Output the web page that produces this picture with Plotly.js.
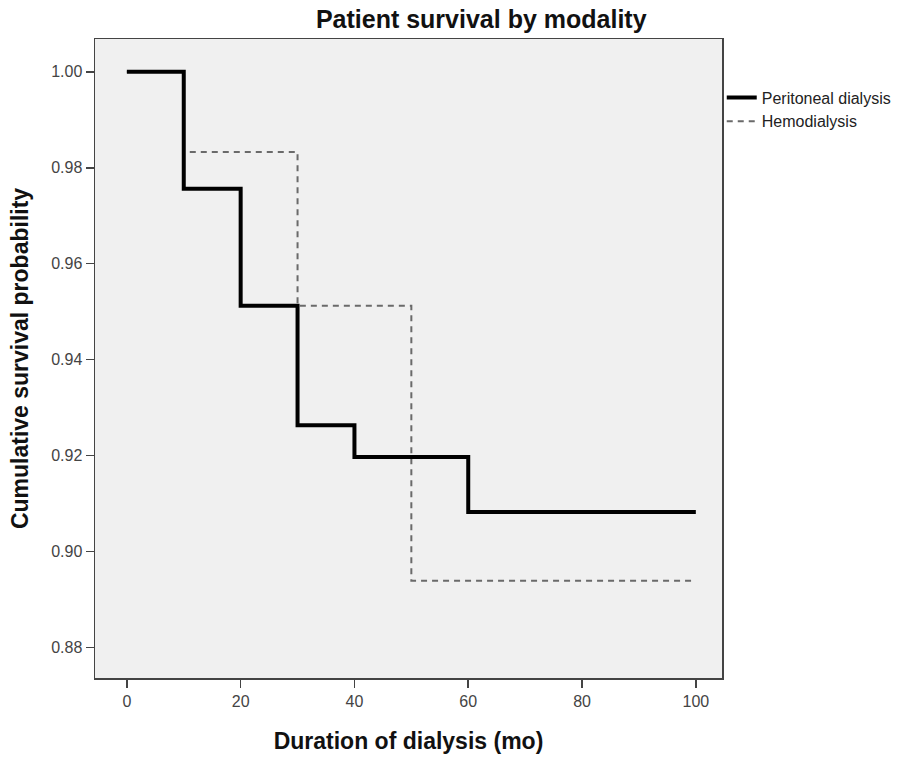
<!DOCTYPE html>
<html>
<head>
<meta charset="utf-8">
<script src="https://cdn.plot.ly/plotly-3.0.1.min.js"></script>
<style>html,body{margin:0;padding:0;background:#fff;}#chart{width:907px;height:758px;}</style>
</head>
<body>
<div id="chart"></div>
<script>
// Step times (months) and cumulative survival
const pdTimes = [0, 10, 20, 30, 40, 60, 100];
const pdSurvival = [1.0, 0.9756, 0.9512, 0.9263, 0.9197, 0.9082, 0.9082];
const hdTimes = [0, 10, 30, 50, 100];
const hdSurvival = [1.0, 0.9833, 0.9512, 0.8939, 0.8939];
const seriesNames = ['Peritoneal dialysis', 'Hemodialysis'];

// Hemodialysis drawn first so the solid line sits on top; legend order fixed by legendrank
const traces = [
  {x: hdTimes, y: hdSurvival, name: seriesNames[1], type: 'scatter', mode: 'lines', legendrank: 2,
   legendgroup: 'hd',
   line: {shape: 'hv', color: '#6a6a6a', width: 2, dash: '6px,5px'}},
  {x: pdTimes, y: pdSurvival, name: seriesNames[0], type: 'scatter', mode: 'lines', legendrank: 1,
   legendgroup: 'pd',
   line: {shape: 'hv', color: '#000000', width: 4}}
];

const font = 'Liberation Sans, Arial, sans-serif';
const layout = {
  width: 907, height: 758,
  margin: {l: 95, r: 184, t: 39, b: 80},
  paper_bgcolor: '#ffffff',
  plot_bgcolor: '#f0f0f0',
  font: {family: font, color: '#444444', size: 15},
  title: {text: '<b>Patient survival by modality</b>', x: 0.616, xanchor: 'center', xref: 'paper',
          y: 0.974, yanchor: 'middle', yref: 'container', font: {family: font, size: 25, color: '#111111'}},
  xaxis: {range: [-5.6, 104.6], tickvals: [0, 20, 40, 60, 80, 100], ticks: 'outside', ticklen: 8,
          tickwidth: 1.5, tickcolor: '#444', showgrid: false, zeroline: false,
          showline: true, linecolor: '#444', linewidth: 1.5, mirror: true,
          tickfont: {size: 16, color: '#444'},
          title: {text: '<b>Duration of dialysis (mo)</b>', font: {size: 23, color: '#111'}, standoff: 24}},
  yaxis: {range: [0.8736, 1.00685], tickvals: [0.88, 0.90, 0.92, 0.94, 0.96, 0.98, 1.00], tickformat: '.2f',
          ticks: 'outside', ticklen: 8, tickwidth: 1.5, tickcolor: '#444', showgrid: false, zeroline: false,
          showline: true, linecolor: '#444', linewidth: 1.5, mirror: true,
          tickfont: {size: 16, color: '#444'},
          title: {text: '<b>Cumulative survival probability</b>', font: {size: 23, color: '#111'}, standoff: 16}},
  showlegend: true,
  legend: {x: 0.998, y: 0.935, xanchor: 'left', yanchor: 'top', bgcolor: 'rgba(0,0,0,0)',
           font: {size: 16, color: '#222'}, itemwidth: 30, tracegroupgap: 2, traceorder: 'normal'}
};

Plotly.newPlot('chart', traces, layout, {displayModeBar: false, staticPlot: true});
</script>
</body>
</html>
